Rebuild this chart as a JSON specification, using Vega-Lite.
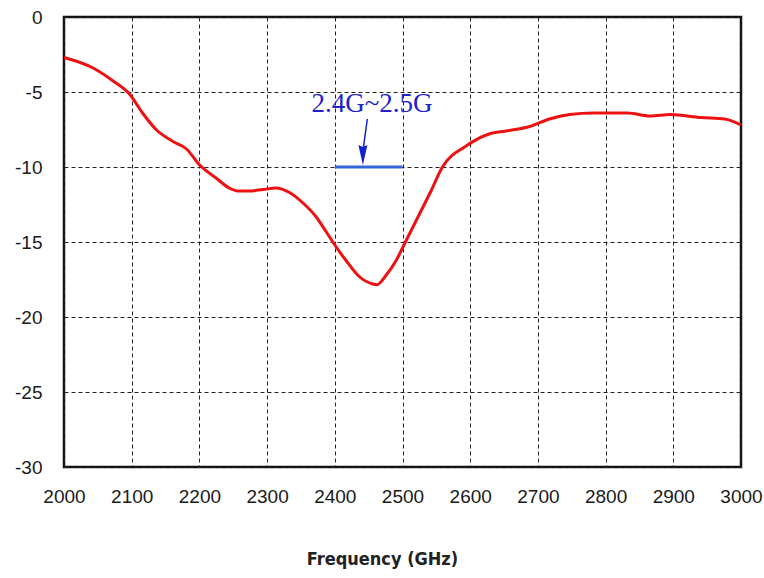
{
  "$schema": "https://vega.github.io/schema/vega-lite/v6.json",
  "width": 677,
  "height": 450,
  "autosize": "none",
  "padding": {"left": 64, "top": 17, "right": 23, "bottom": 111},
  "background": "white",
  "config": {
    "view": {"stroke": "#111", "strokeWidth": 2.5},
    "axis": {
      "grid": true, "gridColor": "#222", "gridDash": [4, 3], "gridWidth": 1, "gridOpacity": 1,
      "ticks": false, "domain": false, "labelFlush": false, "labelOverlap": false, "labelBound": false,
      "labelFont": "Liberation Sans", "labelFontSize": 19, "labelColor": "#1a1a1a"
    }
  },
  "datasets": {
    "curve": [
      {"f": 2000, "db": -2.7}, {"f": 2043, "db": -3.4}, {"f": 2072, "db": -4.25}, {"f": 2097, "db": -5.15},
      {"f": 2116, "db": -6.4}, {"f": 2136, "db": -7.5}, {"f": 2161, "db": -8.3}, {"f": 2181, "db": -8.8},
      {"f": 2200, "db": -9.85}, {"f": 2225, "db": -10.75}, {"f": 2244, "db": -11.4}, {"f": 2257, "db": -11.6},
      {"f": 2274, "db": -11.6}, {"f": 2294, "db": -11.5}, {"f": 2313, "db": -11.4}, {"f": 2333, "db": -11.7},
      {"f": 2353, "db": -12.4}, {"f": 2372, "db": -13.3}, {"f": 2387, "db": -14.3}, {"f": 2400, "db": -15.2},
      {"f": 2416, "db": -16.2}, {"f": 2436, "db": -17.3}, {"f": 2456, "db": -17.8}, {"f": 2462, "db": -17.85},
      {"f": 2476, "db": -17.2}, {"f": 2491, "db": -16.2}, {"f": 2501, "db": -15.3}, {"f": 2521, "db": -13.5},
      {"f": 2541, "db": -11.7}, {"f": 2559, "db": -10.0}, {"f": 2594, "db": -8.6}, {"f": 2628, "db": -7.8},
      {"f": 2653, "db": -7.6}, {"f": 2688, "db": -7.3}, {"f": 2717, "db": -6.8}, {"f": 2747, "db": -6.5},
      {"f": 2782, "db": -6.4}, {"f": 2832, "db": -6.4}, {"f": 2866, "db": -6.6}, {"f": 2896, "db": -6.5},
      {"f": 2941, "db": -6.7}, {"f": 2976, "db": -6.8}, {"f": 3000, "db": -7.2}
    ],
    "band": [{"f": 2400, "f2": 2500, "db": -10}],
    "label": [{"f": 2455, "db": -5.8, "text": "2.4G~2.5G"}],
    "arrow": [{"f": 2448, "db": -6.8, "f2": 2442, "db2": -8.8}],
    "head": [{"f": 2441.5, "db": -9.2}]
  },
  "layer": [
    {
      "data": {"name": "curve"},
      "mark": {"type": "line", "color": "#ee1111", "strokeWidth": 3, "interpolate": "monotone"},
      "encoding": {
        "x": {"field": "f", "type": "quantitative", "scale": {"domain": [2000, 3000], "nice": false},
          "axis": {"values": [2000, 2100, 2200, 2300, 2400, 2500, 2600, 2700, 2800, 2900, 3000],
            "labelPadding": 20, "title": "Frequency (GHz)", "titleFont": "DejaVu Sans Condensed",
            "titleFontSize": 18, "titleFontWeight": "bold", "titleColor": "#222", "titlePadding": 44,
            "titleX": 318, "titleAlign": "center", "labelExpr": "'' + datum.value"}},
        "y": {"field": "db", "type": "quantitative", "scale": {"domain": [-30, 0], "nice": false},
          "axis": {"values": [0, -5, -10, -15, -20, -25, -30], "labelPadding": 22, "title": null, "labelExpr": "'' + datum.value"}}
      }
    },
    {
      "data": {"name": "band"},
      "mark": {"type": "rule", "color": "#3366dd", "strokeWidth": 3},
      "encoding": {
        "x": {"field": "f", "type": "quantitative"},
        "x2": {"field": "f2"},
        "y": {"field": "db", "type": "quantitative"}
      }
    },
    {
      "data": {"name": "arrow"},
      "mark": {"type": "rule", "color": "#1122cc", "strokeWidth": 1.5},
      "encoding": {
        "x": {"field": "f", "type": "quantitative"},
        "x2": {"field": "f2"},
        "y": {"field": "db", "type": "quantitative"},
        "y2": {"field": "db2"}
      }
    },
    {
      "data": {"name": "head"},
      "mark": {"type": "point", "shape": "M-0.45,-1L0,-0.8L0.45,-1L0,1Z", "filled": true, "color": "#1122cc", "size": 400, "opacity": 1},
      "encoding": {
        "x": {"field": "f", "type": "quantitative"},
        "y": {"field": "db", "type": "quantitative"}
      }
    },
    {
      "data": {"name": "label"},
      "mark": {"type": "text", "font": "Liberation Serif", "fontSize": 27, "color": "#2222cc", "align": "center", "baseline": "middle"},
      "encoding": {
        "x": {"field": "f", "type": "quantitative"},
        "y": {"field": "db", "type": "quantitative"},
        "text": {"field": "text"}
      }
    }
  ]
}
